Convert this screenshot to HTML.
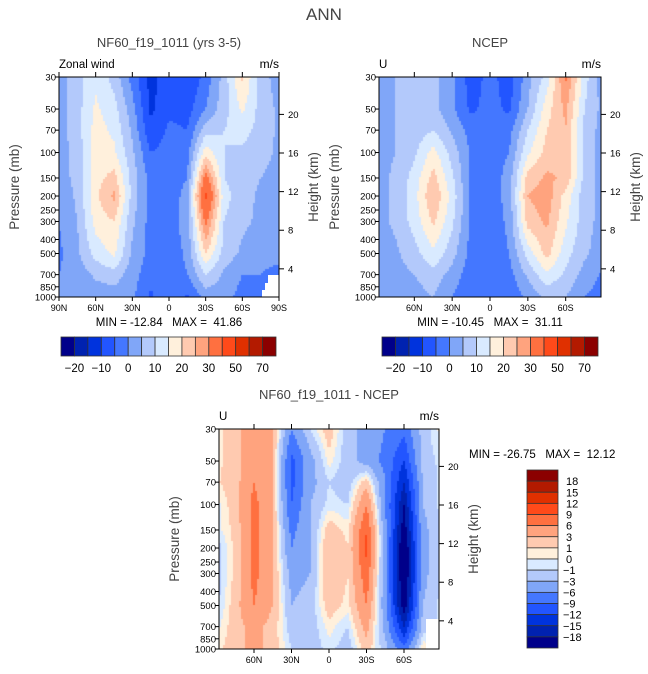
<!DOCTYPE html>
<html><head><meta charset="utf-8">
<style>
html,body{margin:0;padding:0;background:#fff;}
body{width:648px;height:674px;position:relative;overflow:hidden;font-family:"Liberation Sans",sans-serif;color:#222;}
svg{position:absolute;left:0;top:0;}
svg text{white-space:pre;}
canvas{position:absolute;}
</style></head>
<body>
<canvas id="c1" style="left:59px;top:77px" width="220" height="220"></canvas>
<canvas id="c2" style="left:379px;top:77px" width="222" height="220"></canvas>
<canvas id="c3" style="left:219px;top:429px" width="220" height="220"></canvas>
<svg id="s" width="648" height="674" xmlns="http://www.w3.org/2000/svg"></svg>
<script>
// ---- data ----
const lats = [90,75,60,45,30,15,0,-15,-30,-45,-60,-75,-90];
const levels = [30,50,70,100,150,200,300,500,700,1000];
const modelU = [
[3,8,14,8,-2,-12,-7,-10,-3,7,21,7,3],
[3,8,16,12,2,-11,-6,-7,0,8,16,8,4],
[3,8,17,14,4,-9,-4,-5,8,10,12,8,4],
[2,7,17,16,6,-5,-3,-2,18,10,9,7,4],
[2,7,18,22,8,-2,-3,0,33,10,7,5,3],
[1,6,19,26,8,-2,-3,2,42,12,7,4,3],
[0,5,17,20,6,-2,-2,2,32,10,6,4,3],
[-1,4,12,16,4,-2,-3,1,20,8,4,2,2],
[0,2,6,8,2,-3,-3,0,10,4,0,0,-2],
[0,1,2,2,1,-6,-1,-6,2,2,-2,0,0]];
const ncepU = [
[3,5,6,6,2,-8,-3,-8,3,12,31,12,2],
[3,5,6,7,1,-6,-3,-6,5,18,26,10,3],
[3,5,7,10,4,-2,-3,-2,10,20,25,8,3],
[3,5,9,17,8,-1,-3,0,14,22,25,8,3],
[3,6,12,22,11,-1,-3,2,22,26,24,8,3],
[3,6,13,25,13,-1,-3,2,25,28,18,7,3],
[3,6,12,21,11,-1,-3,1,22,26,16,7,3],
[2,4,8,14,7,-2,-3,0,12,22,12,6,2],
[0,3,5,8,3,-3,-3,-2,6,14,9,3,-1],
[0,2,3,5,0,-4,-3,-4,1,6,5,0,-2]];
const diffU = [
[0.5,2,5,3,-6,-1,2,-2,-4,-6,-8,-2,0.5],
[0.5,2,5,3,-10,-4,0.5,-2,-4,-7,-12,-2,-0.5],
[0.8,2,6,3,-10,-4,-1,-2,2,-6,-15,-3,-0.5],
[-0.5,2,7,3,-9,-3,-0.5,-1,6,-6,-18,-3,-0.5],
[-0.5,1.5,7,3,-7,-3,2,0.5,9,-5,-20,-4,-0.5],
[-2,1.5,7,3,-6,-3,3,1,10,-5,-22,-4,-0.5],
[-2,1.5,7,3,-4,-3,3,1,8,-5,-22,-4,-0.5],
[-1.5,2,6,3,-3,-2,2,0.5,6,-5,-20,-3,-0.5],
[-0.5,2,4,2,-2,-2,0.5,-1,4,-4,-15,-2,-0.5],
[0.5,2,4,2,-1,-2,-0.5,-2,2,-2,-8,1,-0.5]];
const windLevels = [-20,-15,-10,-5,0,5,10,15,20,25,30,40,50,60,70];
const windLabels = ["-20","-10","0","10","20","30","50","70"];
const diffLevels = [-18,-15,-12,-9,-6,-3,-1,0,1,3,6,9,12,15,18];
const diffLabels = ["18","15","12","9","6","3","1","0","-1","-3","-6","-9","-12","-15","-18"];
const pTicks = [30,50,70,100,150,200,250,300,400,500,700,850,1000];
const hTicks = [20,16,12,8,4];
const palette = ["#00008a","#0022b0","#0033dd","#2255ff","#4477ff","#80a6f8","#b3c9fb","#d9eaff","#fff0dc","#ffcab0","#ffa37e","#ff7040","#ff4a1a","#e03000","#b31a00","#8b0000"];

const NS='http://www.w3.org/2000/svg';
const svg=document.getElementById('s');
function el(tag,attrs,name,txt){const e=document.createElementNS(NS,tag);for(const k in attrs)e.setAttribute(k,attrs[k]);


if(txt!==undefined)e.textContent=txt;svg.appendChild(e);return e;}

function interp(grid,lat,p){
  let fi=(90-lat)/15; fi=Math.max(0,Math.min(lats.length-1.0001,fi));
  const i=Math.floor(fi),tx=fi-i;
  const lp=Math.log(p);let j=0;
  while(j<levels.length-2 && Math.log(levels[j+1])<lp) j++;
  let ty=(lp-Math.log(levels[j]))/(Math.log(levels[j+1])-Math.log(levels[j]));ty=Math.max(0,Math.min(1,ty));
  const a=grid[j][i],b=grid[j][i+1],c=grid[j+1][i],d=grid[j+1][i+1];
  return (a*(1-tx)+b*tx)*(1-ty)+(c*(1-tx)+d*tx)*ty;
}
function colorFor(v,lv){let k=0;while(k<lv.length&&v>=lv[k])k++;return palette[k];}

function drawPanel(id,grid,lv,latMax,W,H){
  const ctx=document.getElementById(id).getContext('2d');
  const step=2;
  for(let x=0;x<W;x+=step)for(let y=0;y<H;y+=step){
    const lat=latMax-(x+step/2)/W*2*latMax;
    const p=30*Math.pow(1000/30,(y+step/2)/H);
    ctx.fillStyle=colorFor(interp(grid,lat,p),lv);
    ctx.fillRect(x,y,step,step);
  }
}
drawPanel('c1',modelU,windLevels,90,220,220);
drawPanel('c2',ncepU,windLevels,88,222,220);
drawPanel('c3',diffU,diffLevels,88,220,220);

function axes(x0,y0,w,h,latMax,latTicks,names){
  const yOf=p=>y0+h*Math.log(p/30)/Math.log(1000/30);
  const xOf=l=>x0+w*(latMax-l)/(2*latMax);
  el('rect',{x:x0,y:y0,width:w,height:h,fill:'none',stroke:'#000','stroke-width':1},names+'-frame');
  pTicks.forEach(p=>{const y=yOf(p);
    el('line',{x1:x0-4,y1:y,x2:x0,y2:y,stroke:'#000'},'pressure-tick');
    el('text',{x:x0-3,y:y+3.5,'font-size':9.5,'text-anchor':'end'},'pressure-tick-label',String(p));});
  hTicks.forEach(hk=>{const y=y0+h*(0.17+(20-hk)/4*0.1755);
    el('line',{x1:x0+w,y1:y,x2:x0+w+5,y2:y,stroke:'#000'},'height-tick');
    el('text',{x:x0+w+9,y:y+3.5,'font-size':9.5},'height-tick-label',String(hk));});
  latTicks.forEach(t=>{const x=xOf(t[0]);
    el('line',{x1:x,y1:y0-5,x2:x,y2:y0,stroke:'#000'},'lat-top-tick');
    el('line',{x1:x,y1:y0+h,x2:x,y2:y0+h+4,stroke:'#000'},'lat-tick');
    el('text',{x:x,y:y0+h+14,'font-size':9,'text-anchor':'middle'},'lat-tick-label',t[1]);});
  el('text',{transform:`translate(${x0-40},${y0+h/2}) rotate(-90)`,'font-size':13.5,'text-anchor':'middle','fill':'#444'},names+'-y-axis-title','Pressure (mb)');
  el('text',{transform:`translate(${x0+w+39},${y0+h/2}) rotate(-90)`,'font-size':13.5,'text-anchor':'middle','fill':'#444'},names+'-height-axis-title','Height (km)');
}
axes(59,77,220,220,90,[[90,'90N'],[60,'60N'],[30,'30N'],[0,'0'],[-30,'30S'],[-60,'60S'],[-90,'90S']],'model');
axes(379,77,222,220,88,[[60,'60N'],[30,'30N'],[0,'0'],[-30,'30S'],[-60,'60S']],'ncep');
axes(219,429,220,220,88,[[60,'60N'],[30,'30N'],[0,'0'],[-30,'30S'],[-60,'60S']],'diff');

el('polygon',{points:'268,275 279,275 279,297 262,297 262,290 265,290 265,283 268,283',fill:'#fff'},'missing-data-region');
el('rect',{x:426,y:619,width:13,height:30,fill:'#fff'},'missing-data-region');
el('rect',{x:59,y:77,width:220,height:220,fill:'none',stroke:'#000'},'model-frame-top');
el('rect',{x:219,y:429,width:220,height:220,fill:'none',stroke:'#000'},'diff-frame-top');

el('text',{x:324,y:20,'font-size':17,'text-anchor':'middle','fill':'#444'},'main-title','ANN');
el('text',{x:169,y:47,'font-size':13,'text-anchor':'middle','fill':'#444'},'model-title','NF60_f19_1011 (yrs 3-5)');
el('text',{x:59,y:68,'font-size':11.5},'model-subtitle','Zonal wind');
el('text',{x:279,y:68,'font-size':12,'text-anchor':'end'},'model-units','m/s');
el('text',{x:169,y:326,'font-size':11.5,'text-anchor':'middle'},'model-min-max','MIN = -12.84   MAX =  41.86');
el('text',{x:490,y:47,'font-size':13,'text-anchor':'middle','fill':'#444'},'ncep-title','NCEP');
el('text',{x:379,y:68,'font-size':11.5},'ncep-subtitle','U');
el('text',{x:601,y:68,'font-size':12,'text-anchor':'end'},'ncep-units','m/s');
el('text',{x:490,y:326,'font-size':11.5,'text-anchor':'middle'},'ncep-min-max','MIN = -10.45   MAX =  31.11');
el('text',{x:329,y:399,'font-size':13,'text-anchor':'middle','fill':'#444'},'diff-title','NF60_f19_1011 - NCEP');
el('text',{x:219,y:420,'font-size':11.5},'diff-subtitle','U');
el('text',{x:439,y:420,'font-size':12,'text-anchor':'end'},'diff-units','m/s');
el('text',{x:469,y:458,'font-size':11.5},'diff-min-max','MIN = -26.75   MAX =  12.12');

function hbar(x0,y0,w,h,names){
  const bw=w/palette.length;
  palette.forEach((c,i)=>el('rect',{x:x0+i*bw,y:y0,width:bw,height:h,fill:c,stroke:'#333','stroke-width':0.8},names+'-colorbar-box'));
  windLabels.forEach((t,i)=>el('text',{x:x0+(1+2*i)*bw,y:y0+h+16,'font-size':11.5,'text-anchor':'middle'},names+'-colorbar-label',t.replace('-','\u2212')));
}
hbar(61,337,215,19,'model');
hbar(382,337,216,19,'ncep');
(function(){const x0=527,y0=470,w=31,h=178,bh=h/palette.length;
  palette.slice().reverse().forEach((c,i)=>el('rect',{x:x0,y:y0+i*bh,width:w,height:bh,fill:c,stroke:'#333','stroke-width':0.8},'diff-colorbar-box'));
  diffLabels.forEach((t,i)=>el('text',{x:t[0]==='-'?563:566,y:y0+(i+1)*bh+4,'font-size':11},'diff-colorbar-label',t.replace('-','\u2212')));
})();
</script>
</body></html>
